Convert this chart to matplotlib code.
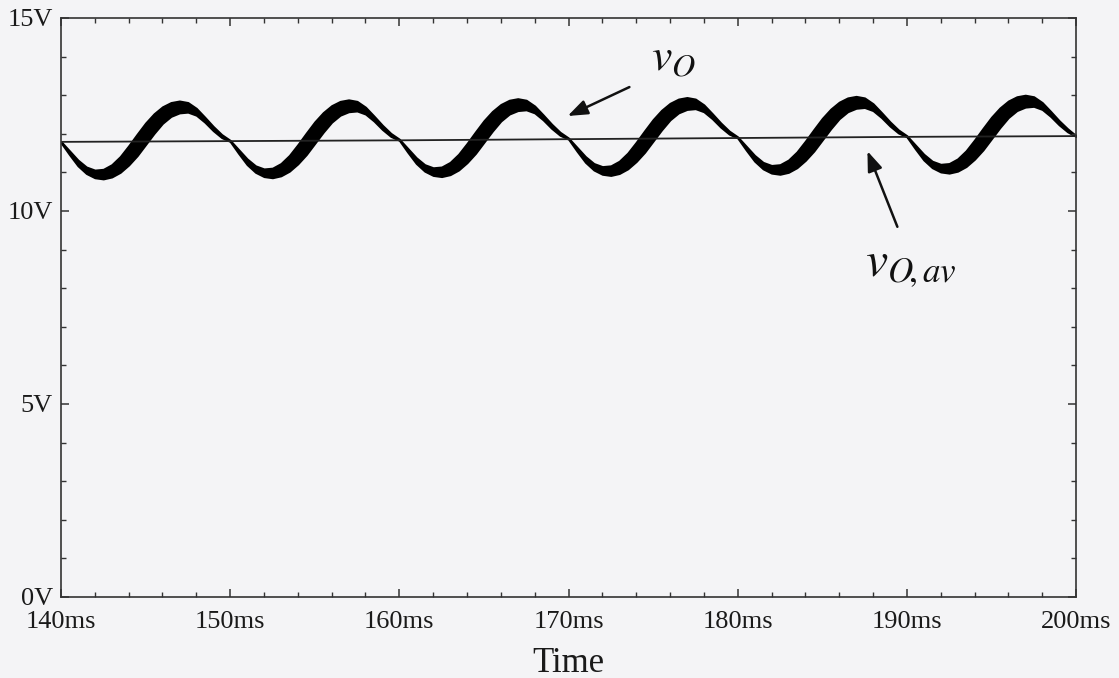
import matplotlib.pyplot as plt
from matplotlib.ticker import MultipleLocator, FuncFormatter
import numpy as np

# one ripple period (ms from start of cycle): upper / lower edge of the band (V)
phase_ms = [0.0, 0.5, 1.0, 1.5, 2.0, 2.5, 3.0, 3.5, 4.0, 4.5, 5.0,
            5.5, 6.0, 6.5, 7.0, 7.5, 8.0, 8.5, 9.0, 9.5]
upper_v = [11.80, 11.56, 11.32, 11.14, 11.06, 11.08, 11.20, 11.41, 11.69, 11.99, 12.28,
           12.52, 12.70, 12.81, 12.85, 12.81, 12.66, 12.43, 12.19, 11.98]
lower_v = [11.77, 11.46, 11.17, 10.97, 10.86, 10.83, 10.88, 11.00, 11.19, 11.43, 11.72,
           12.01, 12.27, 12.45, 12.54, 12.56, 12.48, 12.30, 12.08, 11.90]
# start time of each of the six cycles and their small upward drift
cycle_start = [140, 150, 160, 170, 180, 190]
cycle_shift = [0.00, 0.03, 0.06, 0.09, 0.12, 0.15]
end_time, end_v = 200, 11.94

# average voltage line
avg_t = [140, 150, 160, 170, 180, 190, 200]
avg_v = [11.79, 11.81, 11.83, 11.86, 11.89, 11.92, 11.94]

x_ticks = [140, 150, 160, 170, 180, 190, 200]
y_ticks = [0, 5, 10, 15]

# build the trace from the cycles
t = []
up = []
lo = []
for c0, sh in zip(cycle_start, cycle_shift):
    for p, u, l in zip(phase_ms, upper_v, lower_v):
        t.append(c0 + p)
        up.append(u + sh)
        lo.append(l + sh)
t.append(end_time)
up.append(end_v + 0.01)
lo.append(end_v - 0.01)

bg = '#f4f4f6'
plt.rcParams['font.family'] = ['Liberation Serif', 'DejaVu Serif']
plt.rcParams['mathtext.fontset'] = 'stix'

fig = plt.figure(figsize=(11.19, 6.78), dpi=100, facecolor=bg)
ax = fig.add_axes([0.0545, 0.1195, 0.9071, 0.854])
ax.set_facecolor(bg)

ax.fill_between(t, lo, up, color='black', lw=1.4, edgecolor='black')
ax.plot(avg_t, avg_v, color='#222222', lw=1.3)

ax.set_xlim(140, 200)
ax.set_ylim(0, 15)
ax.set_xticks(x_ticks)
ax.set_yticks(y_ticks)
ax.xaxis.set_minor_locator(MultipleLocator(2))
ax.yaxis.set_minor_locator(MultipleLocator(1))
ax.xaxis.set_major_formatter(FuncFormatter(lambda v, p: '%dms' % v))
ax.yaxis.set_major_formatter(FuncFormatter(lambda v, p: '%dV' % v))
ax.tick_params(which='both', direction='in', top=True, right=True,
               colors='#333333', labelcolor='#1a1a1a', labelsize=19)
ax.tick_params(which='major', length=6, width=1.1)
ax.tick_params(which='minor', length=3.5, width=1.0)
ax.tick_params(axis='x', pad=10)
ax.tick_params(axis='y', pad=6)
for s in ax.spines.values():
    s.set_color('#333333')
    s.set_linewidth(1.2)

ax.set_xlabel('Time', fontsize=25, color='#1a1a1a', labelpad=10)

arrow = dict(arrowstyle='-|>,head_length=1.2,head_width=0.45',
             color='#111111', lw=1.8, shrinkA=0, shrinkB=0)
ax.annotate('', xy=(169.95, 12.46), xytext=(173.6, 13.21), arrowprops=arrow)
ax.text(174.9, 13.65, r'$v_O$', fontsize=33, color='#111111', ha='left', va='baseline')

ax.annotate('', xy=(187.67, 11.55), xytext=(189.44, 9.59), arrowprops=arrow)
ax.text(187.5, 8.29, r'$v_{O\!,av}$', fontsize=36, color='#111111', ha='left', va='baseline')

fig.savefig('out.png', dpi=100, facecolor=bg)
